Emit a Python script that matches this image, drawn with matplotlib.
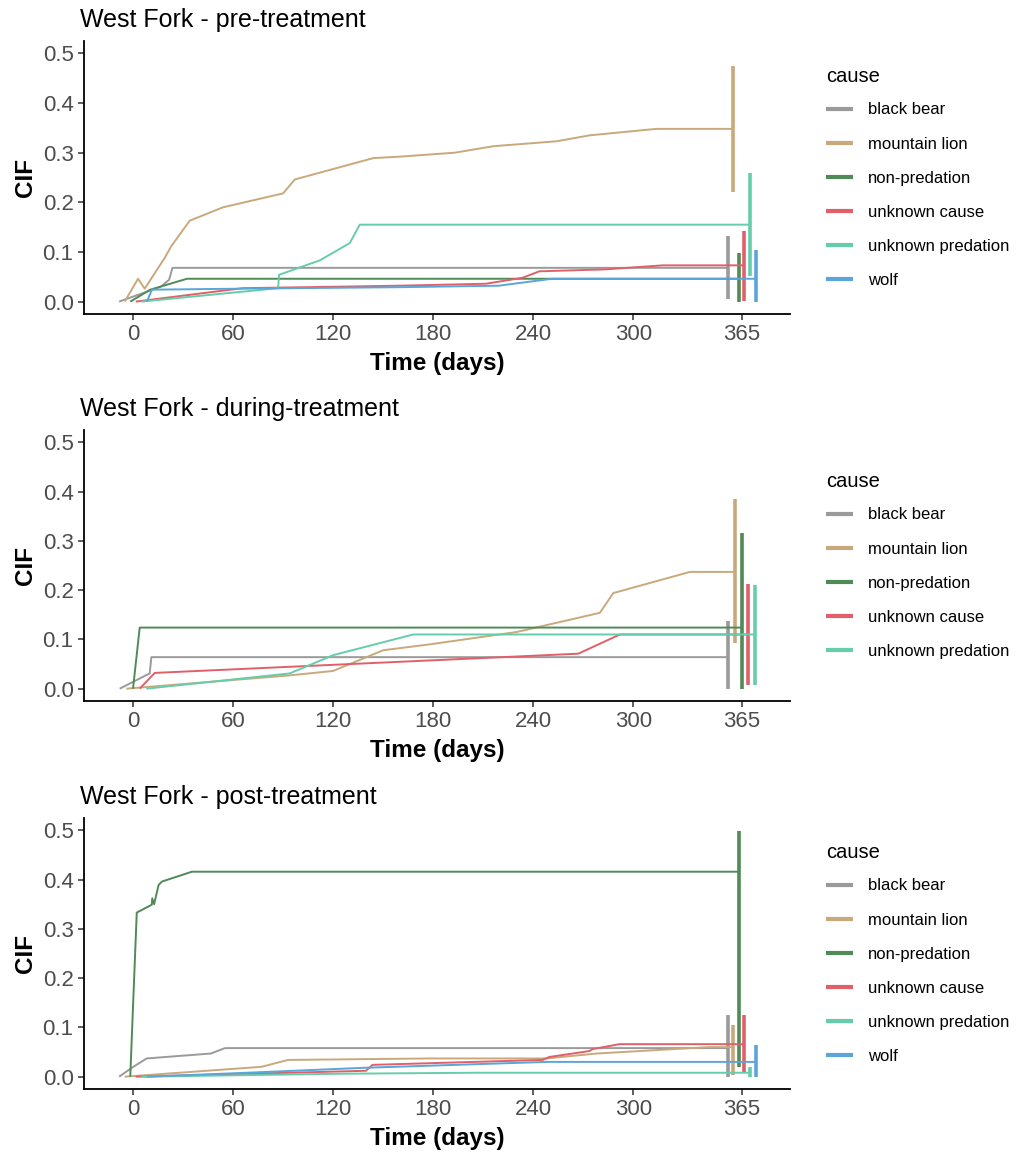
import matplotlib
matplotlib.use("Agg")
import matplotlib.pyplot as plt
import numpy as np

plt.rcParams["font.family"] = ["Liberation Sans", "DejaVu Sans"]

# causes and colours
causes = ["black bear", "mountain lion", "non-predation", "unknown cause",
          "unknown predation", "wolf"]
colours = ["#9A9A9A", "#C9A97C", "#4F8A57", "#E0606A", "#66CDAA", "#5AA5DA"]

x_ticks = [0, 60, 120, 180, 240, 300, 365]
y_ticks = [0.0, 0.1, 0.2, 0.3, 0.4, 0.5]

# ---- pre-treatment ----
pre_bear_t = [0, 25, 30, 32]
pre_bear_y = [0, 0.030, 0.044, 0.068]
pre_lion_t = [0, 8, 12, 24, 28, 39, 59, 95, 102, 149, 165, 198, 221, 259, 279, 319]
pre_lion_y = [0, 0.046, 0.026, 0.088, 0.112, 0.163, 0.190, 0.218, 0.246, 0.289,
              0.292, 0.300, 0.313, 0.323, 0.335, 0.348]
pre_nonpred_t = [0, 12, 34]
pre_nonpred_y = [0, 0.024, 0.046]
pre_unkcause_t = [0, 64, 158, 210, 232, 242, 282, 316]
pre_unkcause_y = [0, 0.027, 0.032, 0.036, 0.048, 0.061, 0.065, 0.073]
pre_unkpred_t = [0, 82, 82.6, 107, 125, 131]
pre_unkpred_y = [0, 0.027, 0.054, 0.083, 0.118, 0.155]
pre_wolf_t = [0, 3, 55, 151, 211, 243]
pre_wolf_y = [0, 0.024, 0.026, 0.029, 0.032, 0.046]
pre_ci_lo = [0.006, 0.220, 0.000, 0.002, 0.051, 0.000]
pre_ci_hi = [0.133, 0.475, 0.098, 0.143, 0.259, 0.104]

# ---- during-treatment ----
dur_bear_t = [0, 18, 19]
dur_bear_y = [0, 0.031, 0.064]
dur_lion_t = [0, 98, 124, 154, 182, 234, 284, 292, 338]
dur_lion_y = [0, 0.027, 0.036, 0.078, 0.090, 0.115, 0.154, 0.194, 0.237]
dur_nonpred_t = [0, 4]
dur_nonpred_y = [0, 0.124]
dur_unkcause_t = [0, 9, 263, 288]
dur_unkcause_y = [0, 0.032, 0.071, 0.110]
dur_unkpred_t = [0, 86, 112, 160]
dur_unkpred_y = [0, 0.031, 0.068, 0.110]
dur_ci_lo = [0.000, 0.092, 0.000, 0.007, 0.007]
dur_ci_hi = [0.137, 0.384, 0.316, 0.213, 0.210]

# ---- post-treatment ----
post_bear_t = [0, 8.5, 16.5, 55, 63.5]
post_bear_y = [0, 0.020, 0.037, 0.047, 0.058]
post_lion_t = [0, 82, 98, 183, 253, 283, 350]
post_lion_y = [0, 0.020, 0.034, 0.037, 0.037, 0.047, 0.060]
post_nonpred_t = [0, 3.9, 12.9, 13.2, 14.3, 17, 19, 37]
post_nonpred_y = [0, 0.333, 0.349, 0.362, 0.350, 0.389, 0.396, 0.416]
post_unkcause_t = [0, 138, 142, 244, 248, 272, 274, 290]
post_unkcause_y = [0, 0.012, 0.024, 0.034, 0.040, 0.052, 0.056, 0.066]
post_unkpred_t = [0, 40, 120, 200]
post_unkpred_y = [0, 0.002, 0.006, 0.008]
post_wolf_t = [0, 60, 130, 240]
post_wolf_y = [0, 0.008, 0.018, 0.030]
post_ci_lo = [0.000, 0.003, 0.020, 0.010, 0.000, 0.000]
post_ci_hi = [0.125, 0.105, 0.499, 0.125, 0.020, 0.064]

DODGE = 20
FIG_W, FIG_H = 1021, 1152


def px_rect(left, top, right, bottom):
    return [left / FIG_W, 1 - bottom / FIG_H, (right - left) / FIG_W,
            (bottom - top) / FIG_H]


def draw_panel(ax, title, series, ci_lo, ci_hi):
    n = len(series)
    for i, (t, y) in enumerate(series):
        # dodge each cause sideways, like position_dodge
        off = ((i + 0.5) / n - 0.5) * DODGE
        x = np.append(np.asarray(t, dtype=float) + off, 365 + off)
        yy = np.append(y, y[-1])
        ax.plot(x, yy, color=colours[i], lw=1.4, label=causes[i],
                solid_capstyle="butt")
        ax.vlines(365 + off, ci_lo[i], ci_hi[i], color=colours[i], lw=2.6)

    ax.set_xlim(-29.4, 394)
    ax.set_ylim(-0.025, 0.525)
    ax.set_xticks(x_ticks)
    ax.set_yticks(y_ticks)
    ax.set_yticklabels(["%.1f" % v for v in y_ticks])
    ax.tick_params(axis="both", labelsize=16, labelcolor="#4D4D4D",
                   length=4, width=1.1, color="#333333", pad=3.5)
    ax.spines["top"].set_visible(False)
    ax.spines["right"].set_visible(False)
    ax.spines["left"].set_linewidth(1.3)
    ax.spines["bottom"].set_linewidth(1.3)
    ax.set_xlabel("Time (days)", fontsize=17.5, fontweight="bold", labelpad=5)
    ax.set_ylabel("CIF", fontsize=17.5, fontweight="bold", labelpad=4)
    ax.set_title(title, loc="left", fontsize=18, pad=10, x=-0.006)

    leg = ax.legend(loc="center left", bbox_to_anchor=(1.039, 0.5),
                    frameon=False, title="cause", fontsize=12,
                    title_fontsize=14.5, handlelength=1.65, handletextpad=0.9,
                    labelspacing=1.15, borderpad=0, alignment="left")
    leg._legend_box.sep = 12
    for line in leg.get_lines():
        line.set_linewidth(3.0)


fig = plt.figure(figsize=(FIG_W / 100, FIG_H / 100), dpi=100)

ax1 = fig.add_axes(px_rect(84, 41, 790, 314))
draw_panel(ax1, "West Fork - pre-treatment",
           [(pre_bear_t, pre_bear_y), (pre_lion_t, pre_lion_y),
            (pre_nonpred_t, pre_nonpred_y), (pre_unkcause_t, pre_unkcause_y),
            (pre_unkpred_t, pre_unkpred_y), (pre_wolf_t, pre_wolf_y)],
           pre_ci_lo, pre_ci_hi)

ax2 = fig.add_axes(px_rect(84, 430, 790, 701))
draw_panel(ax2, "West Fork - during-treatment",
           [(dur_bear_t, dur_bear_y), (dur_lion_t, dur_lion_y),
            (dur_nonpred_t, dur_nonpred_y), (dur_unkcause_t, dur_unkcause_y),
            (dur_unkpred_t, dur_unkpred_y)],
           dur_ci_lo, dur_ci_hi)

ax3 = fig.add_axes(px_rect(84, 818, 790, 1089))
draw_panel(ax3, "West Fork - post-treatment",
           [(post_bear_t, post_bear_y), (post_lion_t, post_lion_y),
            (post_nonpred_t, post_nonpred_y), (post_unkcause_t, post_unkcause_y),
            (post_unkpred_t, post_unkpred_y), (post_wolf_t, post_wolf_y)],
           post_ci_lo, post_ci_hi)

fig.savefig("out.png", dpi=100)
